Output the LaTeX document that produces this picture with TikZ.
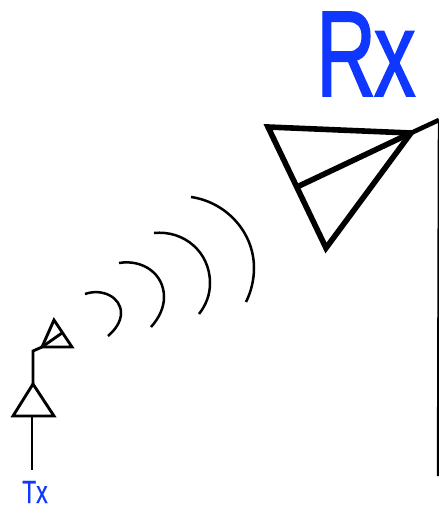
\documentclass[tikz,border=0pt]{standalone}
\usepackage{fontspec}
\setmainfont{Liberation Sans}
\newfontfamily\rxfont[FakeBold=1.6]{Liberation Sans}
\newfontfamily\txfont[FakeBold=0.6]{Liberation Sans}
\definecolor{lblue}{HTML}{0F37FF}
\tikzset{
  big/.style={line width=5.6pt,line join=miter,black},
  small/.style={line width=2.9pt,line join=miter,black},
  wave/.style={line width=2.5pt,black},
  mast/.style={line width=2.4pt,black},
  lab/.style={text=lblue,inner sep=0pt,anchor=base west,transform shape,text depth=0pt}
}
\begin{document}
\begin{tikzpicture}[x=1pt,y=-1pt]
\useasboundingbox (0,0) rectangle (439,506);
% Rx antenna
\coordinate (ra) at (268,127);
\coordinate (rb) at (411,133);
\coordinate (rc) at (326,248);
\coordinate (rd) at (299,186);
\coordinate (re) at (439,120);
\coordinate (rf) at (438,476);
\draw[big] (ra) -- (rb) -- (rc) -- cycle;
\draw[big] (rb) -- (rd);
\draw[line width=4.6pt] (rb) -- (re);
\draw[mast] (re) -- (rf);
% Tx antenna
\coordinate (ta) at (54,320);
\coordinate (tb) at (42,347);
\coordinate (tc) at (72,347);
\coordinate (td) at (62,333);
\coordinate (te) at (33,351);
\coordinate (tf) at (33,384);
\coordinate (tg) at (13,416);
\coordinate (th) at (54,416);
\coordinate (ti) at (32,416);
\coordinate (tj) at (32,470);
\draw[small] (ta) -- (tb) -- (tc) -- cycle;
\draw[small] (tb) -- (td);
\draw[small] (tb) -- (te) -- (tf);
\draw[small] (tf) -- (tg) -- (th) -- cycle;
\draw[small] (ti) -- (tj);
% waves
\draw[wave] (85,294) .. controls (102,288) and (121,297) .. (121,313) .. controls (121,322) and (115,330) .. (108,336);
\draw[wave] (119,263) .. controls (143,259) and (164,274) .. (164,297) .. controls (164,308) and (159,318) .. (151,327);
\draw[wave] (154,233) .. controls (184,230) and (210,252) .. (210,283) .. controls (210,295) and (206,305) .. (199,314);
\draw[wave] (191,197) .. controls (226,202) and (254,232) .. (254,268) .. controls (254,280) and (251,292) .. (246,302);
% labels
\node[lab,xscale=0.68] (rx) at (316,96) {\fontsize{122pt}{122pt}\selectfont\rxfont R\kern-3pt x};
\node[lab,xscale=0.72] (tx) at (22,503) {\fontsize{32pt}{32pt}\selectfont\txfont Tx};
\end{tikzpicture}
\end{document}
